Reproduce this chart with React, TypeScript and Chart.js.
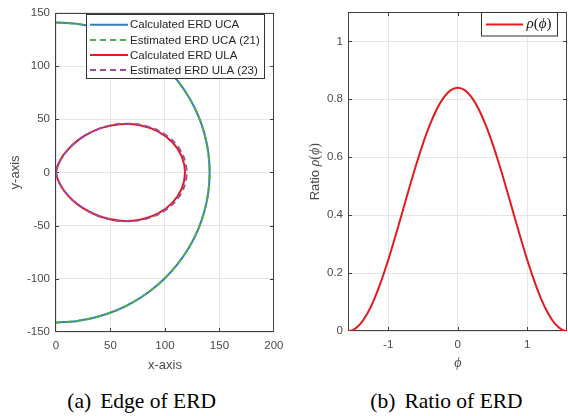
import React, { useEffect, useRef } from "react";
import { Chart, registerables } from "chart.js";

Chart.register(...registerables);

// ---------- data ----------
const ucaX = [0, 18.4, 36.5, 54.0, 70.5, 85.8, 99.7, 111.9, 122.1, 130.3, 136.2, 139.8, 141, 139.8, 136.2, 130.3, 122.1, 111.9, 99.7, 85.8, 70.5, 54.0, 36.5, 18.4, 0];
const ucaY = [-141, -139.8, -136.2, -130.3, -122.1, -111.9, -99.7, -85.8, -70.5, -54.0, -36.5, -18.4, 0, 18.4, 36.5, 54.0, 70.5, 85.8, 99.7, 111.9, 122.1, 130.3, 136.2, 139.8, 141];
const ucaEstX = [0, 18.4, 36.5, 54.0, 70.5, 85.8, 99.7, 111.9, 122.1, 130.3, 136.2, 139.8, 141, 139.8, 136.2, 130.3, 122.1, 111.9, 99.7, 85.8, 70.5, 54.0, 36.5, 18.4, 0];
const ucaEstY = [-141, -139.8, -136.2, -130.3, -122.1, -111.9, -99.7, -85.8, -70.5, -54.0, -36.5, -18.4, 0, 18.4, 36.5, 54.0, 70.5, 85.8, 99.7, 111.9, 122.1, 130.3, 136.2, 139.8, 141];
const ulaX = [0, 0.3, 2.1, 6.6, 14.8, 26.7, 41.9, 59.1, 76.9, 93.4, 106.7, 115.4, 118.4, 115.4, 106.7, 93.4, 76.9, 59.1, 41.9, 26.7, 14.8, 6.6, 2.1, 0.3, 0];
const ulaY = [0, -2.0, -7.7, -16.0, -25.6, -34.8, -41.9, -45.4, -44.4, -38.7, -28.6, -15.2, 0, 15.2, 28.6, 38.7, 44.4, 45.4, 41.9, 34.8, 25.6, 16.0, 7.7, 2.0, 0];
const ulaEstX = [0, 0.3, 2.1, 6.6, 14.8, 26.8, 42.1, 59.5, 77.6, 94.4, 108.0, 116.9, 120.0, 116.9, 108.0, 94.4, 77.6, 59.5, 42.1, 26.8, 14.8, 6.6, 2.1, 0.3, 0];
const ulaEstY = [0, -2.0, -7.7, -16.0, -25.6, -34.9, -42.1, -45.7, -44.8, -39.1, -29.0, -15.4, 0, 15.4, 29.0, 39.1, 44.8, 45.7, 42.1, 34.9, 25.6, 16.0, 7.7, 2.0, 0];

const phi = [-1.5708, -1.5, -1.4, -1.3, -1.2, -1.1, -1.0, -0.9, -0.8, -0.7, -0.6, -0.5, -0.4, -0.3, -0.2, -0.1, 0, 0.1, 0.2, 0.3, 0.4, 0.5, 0.6, 0.7, 0.8, 0.9, 1.0, 1.1, 1.2, 1.3, 1.4, 1.5, 1.5708];
const rho = [0, 0.0042, 0.0243, 0.0601, 0.1103, 0.1728, 0.2452, 0.3246, 0.4077, 0.4914, 0.5722, 0.6469, 0.7126, 0.7667, 0.8068, 0.8316, 0.84, 0.8316, 0.8068, 0.7667, 0.7126, 0.6469, 0.5722, 0.4914, 0.4077, 0.3246, 0.2452, 0.1728, 0.1103, 0.0601, 0.0243, 0.0042, 0];

const xTicksA = [0, 50, 100, 150, 200];
const yTicksA = [-150, -100, -50, 0, 50, 100, 150];
const xTicksB = [-1, 0, 1];
const yTicksB = [0, 0.2, 0.4, 0.6, 0.8, 1];
const xRangeA = [0, 200];
const yRangeA = [-150, 150];
const xRangeB = [-1.5708, 1.5708];
const yRangeB = [0, 1.1];

const seriesLabelsA = ["Calculated ERD UCA", "Estimated ERD UCA (21)", "Calculated ERD ULA", "Estimated ERD ULA (23)"];
const seriesLabelB = "ρ(ϕ)";
const captionA = ["(a)", "Edge of ERD"];
const captionB = ["(b)", "Ratio of ERD"];

// ---------- styles ----------
const SANS = "'Liberation Sans', Arial, Helvetica, sans-serif";
const SERIF = "'Liberation Serif', 'DejaVu Serif', serif";
const TEXT_COLOR = "#4a4a4a";
const BOX_COLOR = "#404040";
const GRID_COLOR = "#e6e6e6";
const BLUE = "#377eb8";
const GREEN = "#4daf4a";
const RED = "#e41a1c";
const PURPLE = "#984ea3";

const pts = (xs: number[], ys: number[]) => xs.map((x, i) => ({ x, y: ys[i] }));

// MATLAB-like box with inward ticks on all four sides
const boxPlugin = {
  id: "matBox",
  beforeDatasetsDraw(chart: any) {
    const { ctx, chartArea: a, scales } = chart;
    ctx.save();
    ctx.strokeStyle = BOX_COLOR;
    ctx.lineWidth = 1;
    const L = Math.round(a.left) - 0.5;
    const R = Math.round(a.right) - 0.5;
    const T = Math.round(a.top) + 0.5;
    const B = Math.round(a.bottom) - 0.5;
    ctx.strokeRect(L, T, R - L, B - T);
    const tl = 3.5;
    ctx.beginPath();
    for (const t of scales.x.ticks) {
      const p = Math.round(scales.x.getPixelForValue(t.value)) + 0.5;
      if (p <= L + 1 || p >= R - 1) continue;
      ctx.moveTo(p, B); ctx.lineTo(p, B - tl);
      ctx.moveTo(p, T); ctx.lineTo(p, T + tl);
    }
    for (const t of scales.y.ticks) {
      const p = Math.round(scales.y.getPixelForValue(t.value)) + 0.5;
      if (p <= T + 1 || p >= B - 1) continue;
      ctx.moveTo(L, p); ctx.lineTo(L + tl, p);
      ctx.moveTo(R, p); ctx.lineTo(R - tl, p);
    }
    ctx.stroke();
    ctx.restore();
  },
};

type Seg = { text: string; font: string };

function drawSegs(ctx: CanvasRenderingContext2D, segs: Seg[], x: number, y: number, align: "left" | "center") {
  ctx.textBaseline = "middle";
  ctx.textAlign = "left";
  let total = 0;
  const widths = segs.map((s) => { ctx.font = s.font; const w = ctx.measureText(s.text).width; total += w; return w; });
  let cx = align === "center" ? x - total / 2 : x;
  segs.forEach((s, i) => { ctx.font = s.font; ctx.fillText(s.text, cx, y); cx += widths[i]; });
}

const legendA = {
  id: "legendA",
  afterDraw(chart: any) {
    const { ctx } = chart;
    ctx.save();
    ctx.fillStyle = "#ffffff";
    ctx.fillRect(86, 14, 179, 65);
    ctx.strokeStyle = "#333333";
    ctx.lineWidth = 1;
    ctx.strokeRect(86.5, 14.5, 178, 64);
    chart.data.datasets.forEach((ds: any, i: number) => {
      const y = 24.8 + i * 15.1;
      ctx.strokeStyle = ds.borderColor;
      ctx.lineWidth = 2;
      ctx.setLineDash(ds.borderDash || []);
      ctx.beginPath();
      ctx.moveTo(90, y); ctx.lineTo(128, y);
      ctx.stroke();
      ctx.setLineDash([]);
      ctx.fillStyle = "#262626";
      ctx.font = `11.5px ${SANS}`;
      ctx.textBaseline = "middle";
      ctx.textAlign = "left";
      ctx.fillText(ds.label, 130, y + 0.5);
    });
    ctx.restore();
  },
};

const legendB = {
  id: "legendB",
  afterDraw(chart: any) {
    const { ctx } = chart;
    const ds = chart.data.datasets[0];
    ctx.save();
    ctx.fillStyle = "#ffffff";
    ctx.fillRect(191.5, 12.5, 77, 24);
    ctx.strokeStyle = "#333333";
    ctx.lineWidth = 1;
    ctx.strokeRect(191.5, 12.5, 76, 23.5);
    ctx.strokeStyle = ds.borderColor;
    ctx.lineWidth = 2;
    ctx.beginPath();
    ctx.moveTo(196, 24.5); ctx.lineTo(233, 24.5);
    ctx.stroke();
    ctx.fillStyle = "#1a1a1a";
    const lab: string = ds.label;
    drawSegs(ctx, [
      { text: lab[0], font: `italic 15px ${SERIF}` },
      { text: lab[1], font: `15px ${SERIF}` },
      { text: lab[2], font: `italic 15px ${SERIF}` },
      { text: lab[3], font: `15px ${SERIF}` },
    ], 236.5, 24.5, "left");
    // y-axis title with mixed fonts
    ctx.save();
    ctx.translate(25, (chart.chartArea.top + chart.chartArea.bottom) / 2);
    ctx.rotate(-Math.PI / 2);
    ctx.fillStyle = TEXT_COLOR;
    drawSegs(ctx, [
      { text: "Ratio ", font: `13px ${SANS}` },
      { text: "ρ", font: `italic 14px ${SERIF}` },
      { text: "(", font: `14px ${SERIF}` },
      { text: "ϕ", font: `italic 14px ${SERIF}` },
      { text: ")", font: `14px ${SERIF}` },
    ], 0, 0, "center");
    ctx.restore();
    ctx.restore();
  },
};

function scaleOpts(range: number[], ticks: number[], size: number, fitKey: "width" | "height", pad: number, title: any) {
  return {
    type: "linear",
    min: range[0],
    max: range[1],
    afterBuildTicks: (s: any) => { s.ticks = ticks.map((v) => ({ value: v })); },
    afterFit: (s: any) => { s[fitKey] = size; },
    grid: { color: GRID_COLOR, lineWidth: 1, drawTicks: false },
    border: { display: false },
    ticks: {
      color: TEXT_COLOR,
      font: { family: SANS, size: 11.5 },
      padding: pad,
      maxRotation: 0,
      autoSkip: false,
      callback: (v: any) => String(v),
    },
    title,
  };
}

const configA: any = {
  type: "scatter",
  data: {
    datasets: [
      { label: seriesLabelsA[0], data: pts(ucaX, ucaY), borderColor: BLUE, borderWidth: 2, showLine: true, pointRadius: 0, tension: 0.3, order: 3 },
      { label: seriesLabelsA[1], data: pts(ucaEstX, ucaEstY), borderColor: GREEN, borderWidth: 2, borderDash: [6, 4], showLine: true, pointRadius: 0, tension: 0.3, order: 2 },
      { label: seriesLabelsA[2], data: pts(ulaX, ulaY), borderColor: RED, borderWidth: 2, showLine: true, pointRadius: 0, tension: 0.3, order: 1 },
      { label: seriesLabelsA[3], data: pts(ulaEstX, ulaEstY), borderColor: PURPLE, borderWidth: 2, borderDash: [6, 4], showLine: true, pointRadius: 0, tension: 0.3, order: 0 },
    ],
  },
  options: {
    responsive: false,
    animation: false,
    devicePixelRatio: 1,
    layout: { padding: { left: 0, top: 5, right: 15, bottom: 0 } },
    plugins: { legend: { display: false }, tooltip: { enabled: false } },
    scales: {
      x: scaleOpts(xRangeA, xTicksA, 48, "height", 6.5, {
        display: true, text: "x-axis", color: TEXT_COLOR, font: { family: SANS, size: 13 }, padding: { top: 0, bottom: 7.2 },
      }),
      y: scaleOpts(yRangeA, yTicksA, 56, "width", 6, {
        display: true, text: "y-axis", color: TEXT_COLOR, font: { family: SANS, size: 13 }, padding: { top: 7.2, bottom: 0 },
      }),
    },
  },
  plugins: [boxPlugin, legendA],
};

const configB: any = {
  type: "scatter",
  data: {
    datasets: [
      { label: seriesLabelB, data: pts(phi, rho), borderColor: RED, borderWidth: 2, showLine: true, pointRadius: 0, tension: 0.3 },
    ],
  },
  options: {
    responsive: false,
    animation: false,
    devicePixelRatio: 1,
    layout: { padding: { left: 0, top: 3, right: 1, bottom: 0 } },
    plugins: { legend: { display: false }, tooltip: { enabled: false } },
    scales: {
      x: scaleOpts(xRangeB, xTicksB, 49, "height", 7, {
        display: true, text: "ϕ", color: TEXT_COLOR, font: { family: SERIF, size: 14, style: "italic" }, padding: { top: 0, bottom: 8.6 },
      }),
      y: scaleOpts(yRangeB, yTicksB, 58.5, "width", 5.5, { display: false }),
    },
  },
  plugins: [boxPlugin, legendB],
};

function ChartCanvas({ config, left, top, width, height }: { config: any; left: number; top: number; width: number; height: number }) {
  const ref = useRef<HTMLCanvasElement>(null);
  useEffect(() => {
    const chart = new Chart(ref.current as HTMLCanvasElement, config);
    return () => chart.destroy();
  }, [config]);
  return (
    <canvas
      ref={ref}
      width={width}
      height={height}
      style={{ position: "absolute", left, top, width, height, display: "block" }}
    />
  );
}

function Caption({ parts, center }: { parts: string[]; center: number }) {
  return (
    <div
      style={{
        position: "absolute",
        left: center - 150,
        top: 391,
        width: 300,
        textAlign: "center",
        fontFamily: SERIF,
        fontSize: 21.5,
        lineHeight: 1,
        color: "#000",
        whiteSpace: "nowrap",
      }}
    >
      <span style={{ marginRight: 9 }}>{parts[0]}</span>
      <span>{parts[1]}</span>
    </div>
  );
}

export default function App() {
  return (
    <div style={{ position: "fixed", left: 0, top: 0, width: 568, height: 416, background: "#fff", overflow: "hidden" }}>
      <ChartCanvas config={configA} left={0} top={0} width={290} height={380} />
      <ChartCanvas config={configB} left={290} top={0} width={278} height={380} />
      <Caption parts={captionA} center={141.7} />
      <Caption parts={captionB} center={446.5} />
    </div>
  );
}
